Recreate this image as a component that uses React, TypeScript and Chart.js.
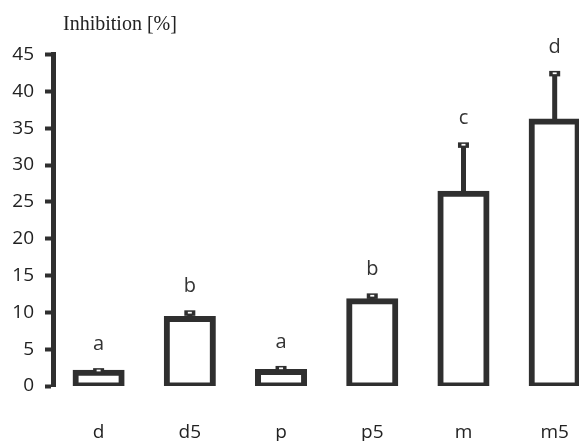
import React, { useEffect, useRef } from "react";
import { Chart, registerables } from "chart.js";

Chart.register(...registerables);

// ---- data ----
const categories = ["d", "d5", "p", "p5", "m", "m5"];
const inhibition = [1.8, 9.1, 1.9, 11.5, 26.1, 35.9];
const errorsUp = [0.25, 0.8, 0.45, 0.7, 6.6, 6.5];
const groupLetters = ["a", "b", "a", "b", "c", "d"];
const yMin = 0;
const yMax = 45;
const yStep = 5;
const yAxisTitle = "Inhibition [%]";

const INK = "#2f2f2f";
const TEXT = "#222222";
const SANS = "'Open Sans', 'DejaVu Sans', sans-serif";

const CANVAS_W = 604;
const CANVAS_H = 441;

const extrasPlugin = {
  id: "extras",
  afterDatasetsDraw(chart: any) {
    const ctx = chart.ctx;
    const meta = chart.getDatasetMeta(0);
    const yScale = chart.scales.y;
    ctx.save();
    meta.data.forEach((el: any, i: number) => {
      const x = el.x;
      const barTop = el.y - 3;
      const capY = yScale.getPixelForValue(inhibition[i] + errorsUp[i]);
      // whisker
      ctx.strokeStyle = INK;
      ctx.lineWidth = 5;
      ctx.beginPath();
      ctx.moveTo(x, barTop + 1);
      ctx.lineTo(x, capY);
      ctx.stroke();
      // cap
      ctx.fillStyle = INK;
      ctx.fillRect(x - 5.5, capY - 2.75, 11, 5.5);
      ctx.fillStyle = "#ffffff";
      ctx.fillRect(x - 2, capY - 1.25, 4, 1.75);
      // group letter
      ctx.fillStyle = "#333333";
      ctx.font = `20px ${SANS}`;
      ctx.textAlign = "center";
      ctx.textBaseline = "alphabetic";
      ctx.fillText(groupLetters[i], x, capY - 2.75 - 18);
    });
    // axis title
    ctx.fillStyle = TEXT;
    ctx.font = "20px 'Liberation Serif', 'Times New Roman', serif";
    ctx.textAlign = "left";
    ctx.textBaseline = "alphabetic";
    ctx.fillText(yAxisTitle, 63, 30);
    ctx.restore();
  },
};

export default function App() {
  const canvasRef = useRef<HTMLCanvasElement | null>(null);

  useEffect(() => {
    if (!canvasRef.current) return;
    const chart = new Chart(canvasRef.current, {
      type: "bar",
      data: {
        labels: categories,
        datasets: [
          {
            data: inhibition,
            backgroundColor: "#ffffff",
            borderColor: INK,
            borderWidth: 6,
            borderSkipped: false,
            inflateAmount: 3,
            barPercentage: 0.505,
            categoryPercentage: 1,
          } as any,
        ],
      },
      options: {
        responsive: false,
        animation: false,
        devicePixelRatio: 1,
        layout: { padding: { top: 54.5, right: 1, bottom: 0, left: 0 } },
        plugins: {
          legend: { display: false },
          tooltip: { enabled: false },
          title: { display: false },
        },
        scales: {
          x: {
            grid: { display: false, drawTicks: false },
            border: { display: false },
            ticks: {
              padding: 35,
              color: TEXT,
              font: { family: SANS, size: 19 },
            },
            afterFit: (scale: any) => {
              scale.height = 55;
            },
          },
          y: {
            min: yMin,
            max: yMax,
            ticks: {
              stepSize: yStep,
              padding: 11,
              color: TEXT,
              font: { family: SANS, size: 19 },
            },
            grid: {
              display: true,
              drawOnChartArea: false,
              drawTicks: true,
              tickLength: 8,
              tickWidth: 4,
              tickColor: INK,
              color: INK,
            },
            border: { display: true, color: INK, width: 5 },
            afterFit: (scale: any) => {
              scale.width = 53;
            },
          },
        },
      },
      plugins: [extrasPlugin],
    });
    return () => chart.destroy();
  }, []);

  return (
    <div
      style={{
        position: "fixed",
        left: 0,
        top: 0,
        width: 579,
        height: 441,
        overflow: "hidden",
        background: "#ffffff",
      }}
    >
      <canvas
        ref={canvasRef}
        width={CANVAS_W}
        height={CANVAS_H}
        style={{ width: CANVAS_W, height: CANVAS_H, display: "block" }}
      />
    </div>
  );
}
